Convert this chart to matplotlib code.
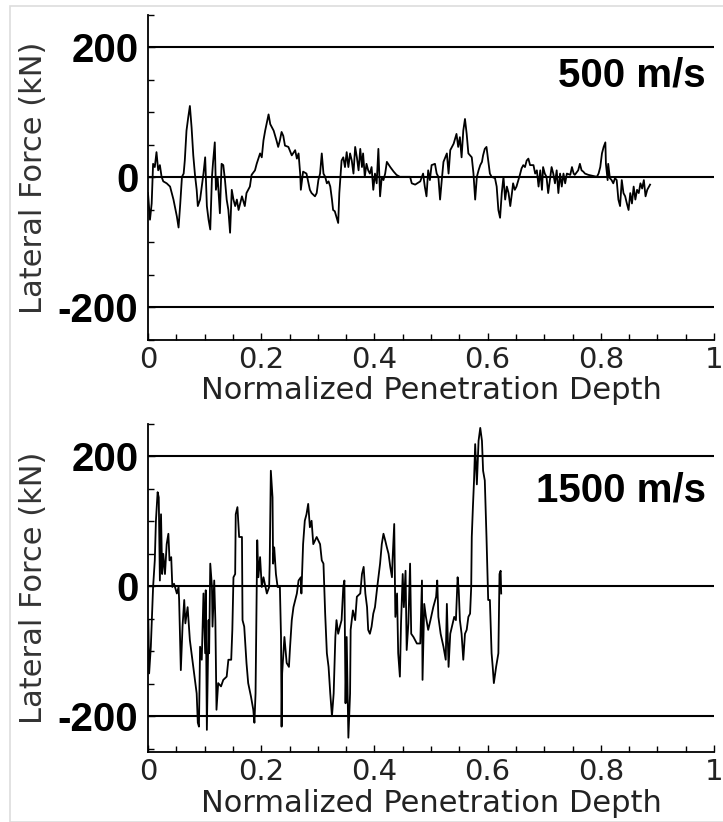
import numpy as np
import matplotlib
matplotlib.use("Agg")
import matplotlib.pyplot as plt
from matplotlib.ticker import MultipleLocator, FixedLocator
from matplotlib.patches import Rectangle

plt.rcParams['font.family'] = ['Liberation Sans', 'DejaVu Sans']

# 500 m/s trace: normalized depth vs lateral force (kN)
depth_500 = [0.000, 0.0035, 0.0065, 0.009, 0.012, 0.015, 0.018, 0.021, 0.024, 0.027,
             0.033, 0.039, 0.045, 0.051, 0.054, 0.057, 0.060, 0.063, 0.065, 0.068,
             0.071, 0.074, 0.077, 0.080, 0.083, 0.086, 0.088, 0.092, 0.095, 0.098,
             0.101, 0.104, 0.107, 0.110, 0.113, 0.115, 0.118, 0.120, 0.123, 0.127,
             0.130, 0.133, 0.136, 0.139, 0.142, 0.145, 0.148, 0.151, 0.154, 0.157,
             0.160, 0.166, 0.171, 0.174, 0.180, 0.183, 0.189, 0.192, 0.198, 0.201,
             0.204, 0.207, 0.213, 0.216, 0.222, 0.227, 0.230, 0.233, 0.236, 0.239,
             0.242, 0.248, 0.254, 0.260, 0.263, 0.266, 0.269, 0.270, 0.274, 0.280,
             0.286, 0.289, 0.295, 0.298, 0.301, 0.304, 0.307, 0.310, 0.313, 0.316,
             0.319, 0.322, 0.325, 0.327, 0.330, 0.336, 0.338, 0.340, 0.342, 0.345,
             0.348, 0.351, 0.354, 0.357, 0.360, 0.363, 0.366, 0.369, 0.372, 0.375,
             0.378, 0.380, 0.383, 0.386, 0.389, 0.392, 0.395, 0.398, 0.401, 0.404,
             0.407, 0.410, 0.413, 0.416, 0.419, 0.422, 0.428, 0.434, 0.439, 0.445,
             0.463, 0.466, 0.472, 0.481, 0.486, 0.489, 0.492, 0.495, 0.498, 0.501,
             0.507, 0.510, 0.513, 0.516, 0.519, 0.522, 0.528, 0.531, 0.534, 0.540,
             0.545, 0.548, 0.551, 0.554, 0.557, 0.560, 0.563, 0.566, 0.572, 0.575,
             0.578, 0.581, 0.584, 0.587, 0.590, 0.592, 0.595, 0.598, 0.601, 0.604,
             0.607, 0.613, 0.616, 0.619, 0.622, 0.625, 0.628, 0.631, 0.634, 0.637,
             0.640, 0.643, 0.645, 0.648, 0.651, 0.657, 0.660, 0.663, 0.666, 0.669,
             0.672, 0.675, 0.681, 0.684, 0.687, 0.690, 0.693, 0.696, 0.698, 0.701,
             0.704, 0.707, 0.710, 0.713, 0.716, 0.719, 0.722, 0.725, 0.728, 0.731,
             0.734, 0.737, 0.740, 0.746, 0.749, 0.752, 0.754, 0.760, 0.763, 0.766,
             0.769, 0.772, 0.778, 0.793, 0.796, 0.799, 0.802, 0.805, 0.808, 0.809,
             0.812, 0.813, 0.816, 0.819, 0.822, 0.825, 0.828, 0.831, 0.834, 0.837,
             0.840, 0.843, 0.846, 0.849, 0.852, 0.855, 0.858, 0.861, 0.864, 0.867,
             0.870, 0.873, 0.876, 0.879, 0.882, 0.887]
force_500 = [-24, -65, -40, 21, 16, 39, 11, 19, 1, -6,
             -9, -14, -34, -60, -77, -40, 1, 6, 26, 72,
             92, 110, 77, 34, 4, -19, -44, -34, -14, 6,
             31, -44, -65, -80, 1, 24, 54, -19, 1, -55,
             21, 19, -4, -34, -50, -85, -19, -34, -44, -34,
             -50, -29, -44, -24, -14, 4, 11, 21, 37, 31,
             57, 72, 97, 82, 72, 57, 47, 57, 70, 64,
             49, 47, 34, 42, 29, 37, 4, -19, 9, 6,
             -19, -24, -29, -24, -4, 6, 37, 6, 1, -9,
             -6, -14, -34, -50, -52, -70, -24, 1, 26, 31,
             16, 39, 16, 37, 26, 6, 47, 31, 11, 44,
             16, 37, 1, 21, 11, 6, 16, -19, 6, -9,
             44, -29, 1, -4, 6, 24, 16, 9, 4, 1,
             1, -9, -11, -6, 6, -14, -29, 11, -4, 19,
             21, 6, 1, -34, -4, 24, 37, 6, 42, 52,
             67, 47, 62, 31, 72, 90, 67, 37, 31, 6,
             -34, 1, 11, 19, 24, 34, 44, 47, 26, 6,
             1, -1, -14, -50, -62, -24, 1, -34, -14, -24,
             -44, -24, -9, -19, -14, 4, 14, 19, 16, 26,
             29, 19, 19, 6, 11, -14, 11, -19, 16, 6,
             1, -24, -4, 16, 6, -9, 11, -24, 6, -14,
             6, -9, 6, 4, 16, 6, 4, 11, 21, 11,
             9, 6, 4, 1, 6, 16, 37, 47, 54, 21,
             -4, 21, -1, -4, -9, -1, -4, -34, -44, -4,
             -24, -29, -40, -50, -24, -40, -14, -34, -19, -24,
             -9, -17, -4, -29, -19, -11]

# 1500 m/s trace
depth_1500 = [0.0006, 0.002, 0.005, 0.009, 0.012, 0.014, 0.017, 0.019, 0.021, 0.023,
              0.025, 0.027, 0.030, 0.033, 0.036, 0.038, 0.041, 0.043, 0.046, 0.051,
              0.054, 0.055, 0.057, 0.058, 0.061, 0.064, 0.066, 0.070, 0.074, 0.080,
              0.083, 0.086, 0.088, 0.090, 0.092, 0.095, 0.098, 0.101, 0.102, 0.104,
              0.107, 0.108, 0.110, 0.113, 0.114, 0.117, 0.119, 0.121, 0.124, 0.129,
              0.133, 0.139, 0.142, 0.147, 0.149, 0.151, 0.154, 0.155, 0.158, 0.161,
              0.166, 0.167, 0.170, 0.174, 0.177, 0.182, 0.186, 0.188, 0.190, 0.192,
              0.193, 0.195, 0.198, 0.201, 0.204, 0.210, 0.214, 0.215, 0.217, 0.220,
              0.221, 0.223, 0.226, 0.229, 0.233, 0.235, 0.236, 0.237, 0.241, 0.245,
              0.249, 0.251, 0.254, 0.257, 0.263, 0.266, 0.270, 0.271, 0.274, 0.277,
              0.280, 0.283, 0.286, 0.289, 0.292, 0.298, 0.304, 0.307, 0.310, 0.313,
              0.316, 0.319, 0.322, 0.325, 0.328, 0.331, 0.333, 0.336, 0.339, 0.342,
              0.345, 0.347, 0.349, 0.351, 0.354, 0.357, 0.358, 0.362, 0.366, 0.369,
              0.375, 0.378, 0.381, 0.384, 0.387, 0.389, 0.392, 0.395, 0.398, 0.401,
              0.405, 0.410, 0.413, 0.416, 0.419, 0.422, 0.425, 0.428, 0.431, 0.432,
              0.435, 0.437, 0.440, 0.442, 0.445, 0.447, 0.450, 0.452, 0.455, 0.457,
              0.460, 0.463, 0.465, 0.469, 0.475, 0.481, 0.484, 0.485, 0.488, 0.491,
              0.495, 0.499, 0.504, 0.509, 0.511, 0.513, 0.517, 0.522, 0.526, 0.528,
              0.531, 0.534, 0.537, 0.541, 0.544, 0.547, 0.549, 0.551, 0.554, 0.557,
              0.560, 0.563, 0.566, 0.569, 0.571, 0.572, 0.574, 0.576, 0.578, 0.581,
              0.584, 0.587, 0.590, 0.592, 0.595, 0.598, 0.601, 0.604, 0.607, 0.609,
              0.611, 0.615, 0.619, 0.621, 0.623, 0.624]
force_1500 = [-52, -134, -93, -1, 40, 101, 145, 137, 9, 111,
              19, 50, 19, 65, 81, 40, 45, -1, 4, -11,
              -1, -21, -93, -129, -62, -21, -57, -32, -83, -124,
              -144, -165, -210, -216, -93, -113, -11, -103, -6, -221,
              -52, -103, 35, -1, -62, 9, -52, -190, -149, -154,
              -144, -139, -113, -113, -67, 14, 19, 111, 122, 76,
              76, -52, -62, -118, -149, -170, -190, -210, -165, -1,
              71, 14, 45, -1, 14, -11, -1, 35, 178, 137,
              35, 60, 19, -1, -1, -78, -216, -134, -78, -118,
              -124, -93, -52, -32, -11, 9, 14, -11, 65, 101,
              111, 127, 91, 101, 65, 76, 65, 40, 35, -42,
              -103, -124, -165, -200, -165, -78, -52, -73, -62, -52,
              -1, 9, -180, -78, -233, -165, -67, -37, -52, -16,
              -11, 19, 30, -11, -32, -67, -73, -62, -42, -32,
              -1, 35, 65, 81, 71, 60, 50, 30, 14, 40,
              96, -47, -11, -103, -139, -57, 19, -32, 24, -98,
              -57, 35, -73, -78, -88, -88, 9, -144, -27, -47,
              -67, -52, -32, -16, 9, -47, -73, -93, -113, -27,
              -124, -73, -62, -47, -52, 14, -6, -52, -73, -113,
              -73, -67, -47, -42, -1, 76, 122, 163, 219, 157,
              224, 244, 224, 178, 163, 76, -21, -21, -103, -124,
              -149, -124, -103, 19, 24, -11]

x_ticks = [0, 0.2, 0.4, 0.6, 0.8, 1.0]
x_ticklabels = ["0", "0.2", "0.4", "0.6", "0.8", "1"]
y_ticks = [-200, 0, 200]
y_ticklabels = ["-200", "0", "200"]

panels = [
    (depth_500, force_500, "500 m/s", 157, (-250, 250)),
    (depth_1500, force_1500, "1500 m/s", 147, (-255, 250)),
]

thin = ['DejaVu Sans']

fig = plt.figure(figsize=(7.23, 8.22), dpi=100)
fig.patches.append(Rectangle((10 / 723, 0.0), 1.0, 1 - 6 / 822, transform=fig.transFigure,
                             fill=False, edgecolor="#dddddd", linewidth=1.2))

positions = [[0.2047, 0.5864, 0.7829, 0.3954], [0.2047, 0.0852, 0.7829, 0.3990]]

for (depth, force, label, label_y, ylim), pos in zip(panels, positions):
    ax = fig.add_axes(pos)
    for yl in y_ticks:
        ax.axhline(yl, color="black", linewidth=1.5, zorder=1)
    ax.plot(depth, force, color="black", linewidth=1.3, zorder=2)
    ax.set_xlim(0, 1)
    ax.set_ylim(*ylim)

    ax.spines["top"].set_visible(False)
    ax.spines["right"].set_visible(False)
    ax.spines["left"].set_linewidth(1.3)
    ax.spines["bottom"].set_linewidth(1.3)

    ax.xaxis.set_major_locator(FixedLocator(x_ticks))
    ax.xaxis.set_minor_locator(MultipleLocator(0.05))
    ax.set_xticklabels(x_ticklabels, family=thin)
    ax.yaxis.set_major_locator(FixedLocator(y_ticks))
    ax.yaxis.set_minor_locator(MultipleLocator(50))
    ax.set_yticklabels(y_ticklabels, fontweight="bold")

    ax.tick_params(axis="both", which="both", direction="in", color="black")
    ax.tick_params(axis="x", which="major", length=5, width=1.0, labelsize=21,
                   labelcolor="#222222", pad=4)
    ax.tick_params(axis="x", which="minor", length=4, width=1.0)
    ax.tick_params(axis="y", which="major", length=5, width=1.0, labelsize=29, pad=7)
    ax.tick_params(axis="y", which="minor", length=4, width=1.0)

    ax.set_xlabel("Normalized Penetration Depth", fontsize=22, color="#222222", family=thin)
    ax.xaxis.set_label_coords(0.5, -0.112)
    ax.set_ylabel("Lateral Force (kN)", fontsize=22, color="#333333", family=thin)
    ax.yaxis.set_label_coords(-0.177, 0.5)

    ax.text(0.985, label_y, label, ha="right", va="center", fontsize=29,
            fontweight="bold", transform=ax.get_yaxis_transform())

fig.savefig("out.png", dpi=100)
